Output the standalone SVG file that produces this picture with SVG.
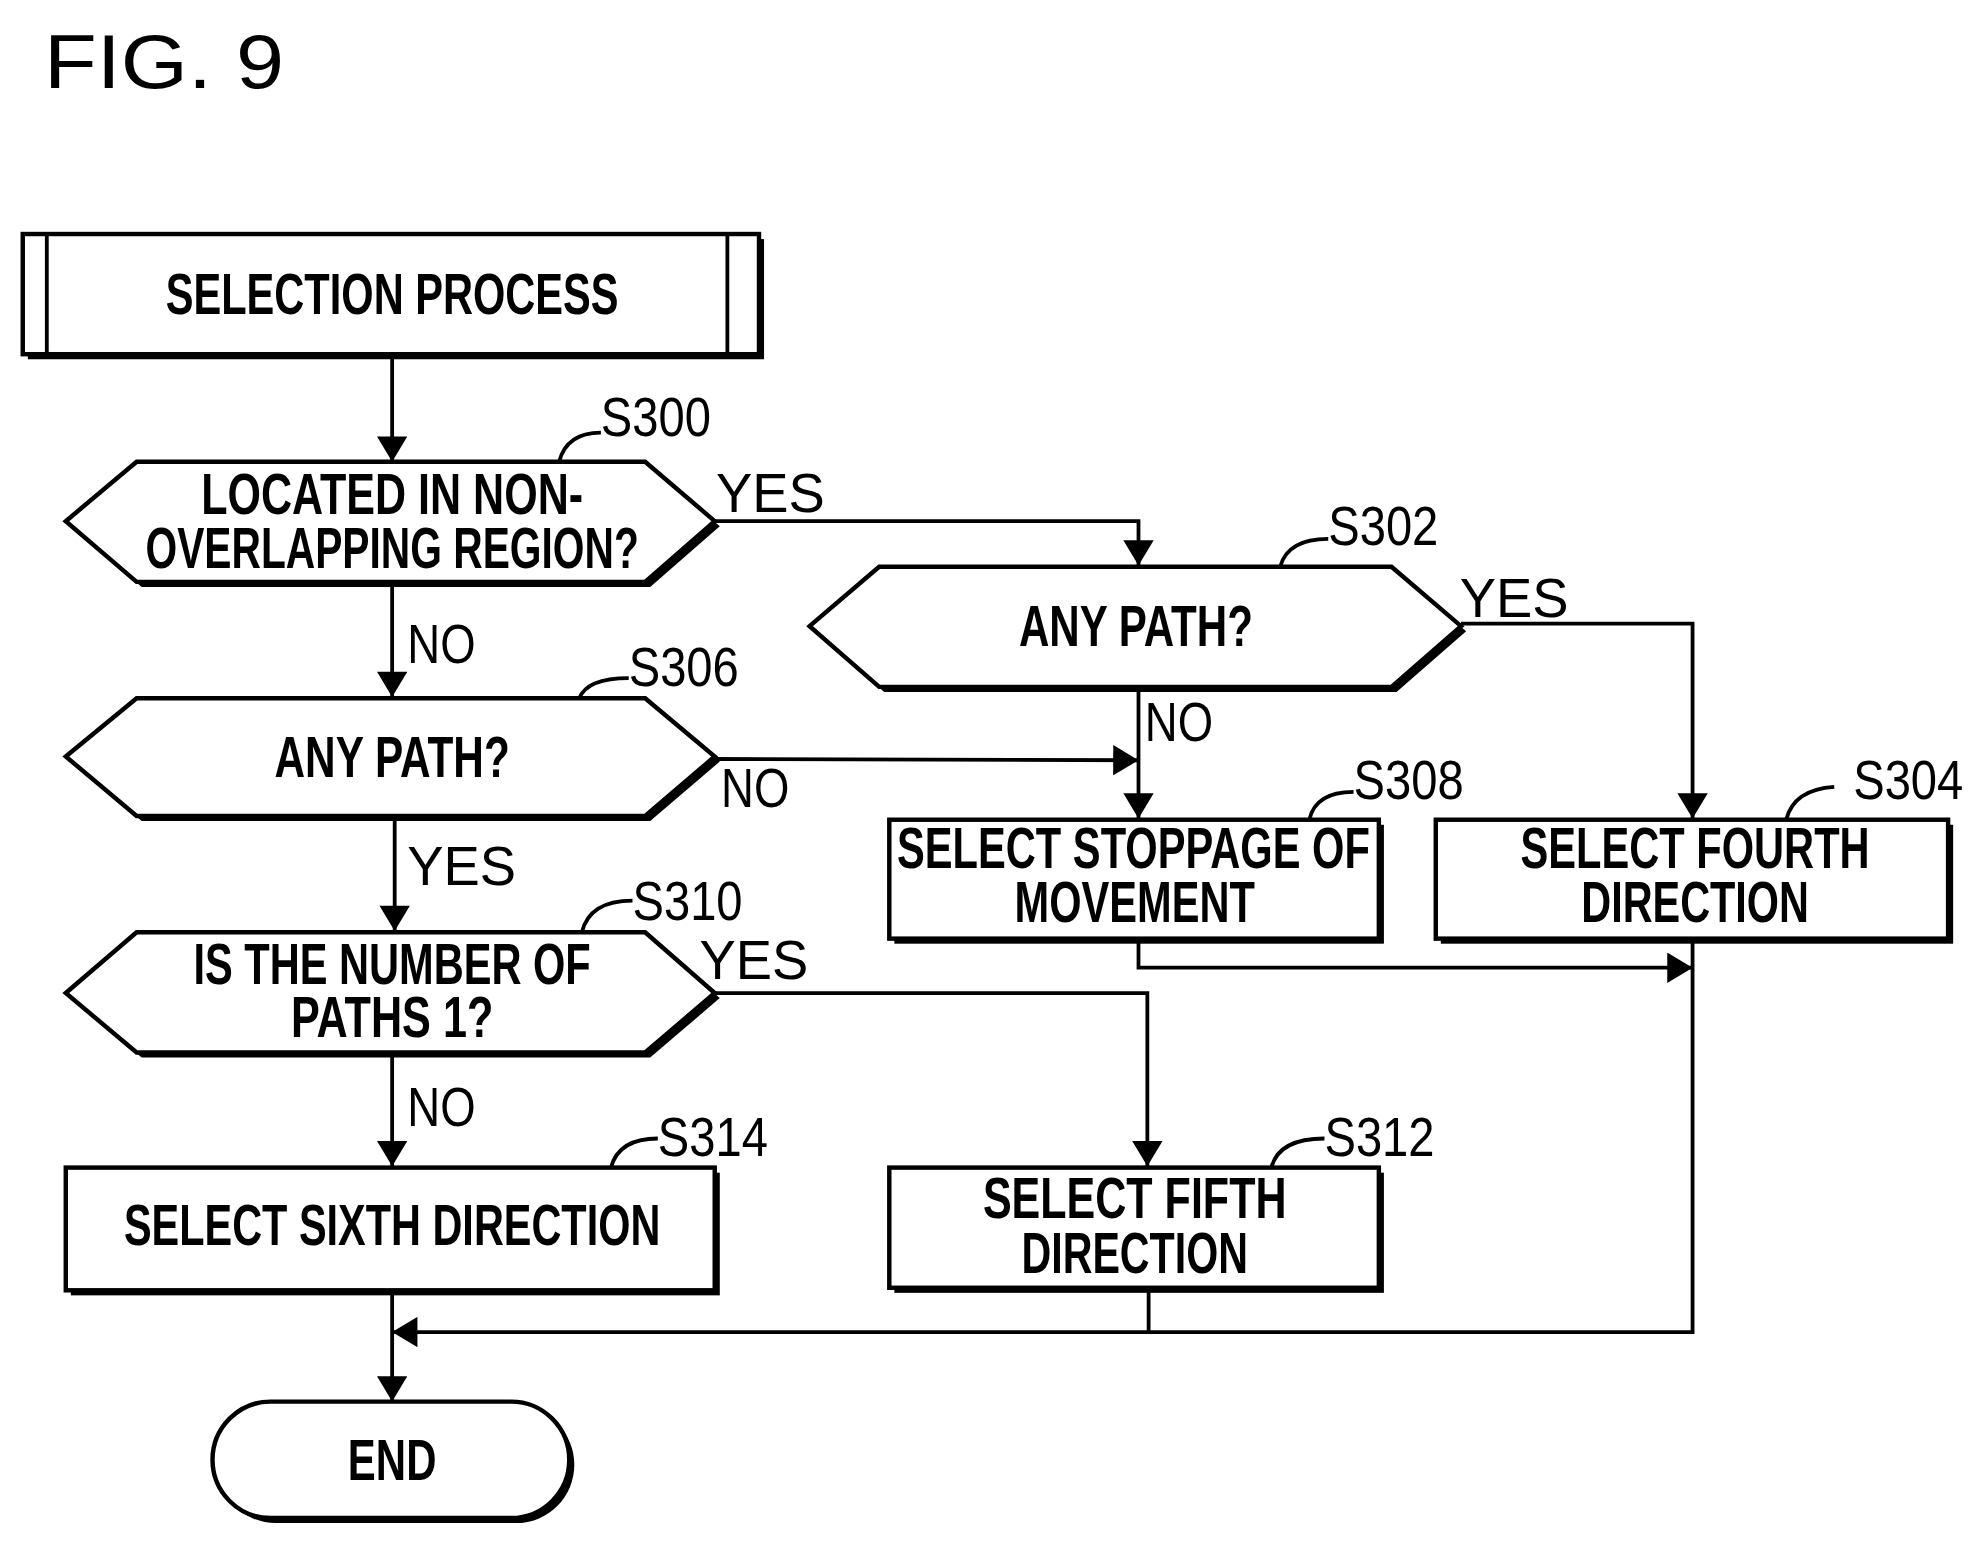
<svg xmlns="http://www.w3.org/2000/svg" width="1984" height="1550" viewBox="0 0 1984 1550">
<style>
.s{fill:#000}
.n{fill:#fff;stroke:#000;stroke-width:3.5}
.t{font-family:"Liberation Sans",Arial,sans-serif;font-size:46px;font-weight:bold;fill:#000}
.l{font-family:"Liberation Sans",Arial,sans-serif;font-size:44px;fill:#000}
.c{fill:none;stroke:#000;stroke-width:3}
</style>
<defs>
<marker id="ah" viewBox="0 0 20 24" refX="20" refY="12" markerWidth="22" markerHeight="24" markerUnits="userSpaceOnUse" orient="auto"><path d="M0,0 L20,12 L0,24 z"/></marker>
</defs>
<rect width="1984" height="1550" fill="#fff"/>
<text x="44" y="88" font-family="Liberation Sans,Arial,sans-serif" font-size="76" textLength="240" lengthAdjust="spacingAndGlyphs">FIG. 9</text>
<g transform="scale(1.265)">
<g id="connectors">
<path class="c" d="M310,280 V365" marker-end="url(#ah)"/>
<path class="c" d="M565,412 H900 V447" marker-end="url(#ah)"/>
<path class="c" d="M1155,493 H1338 V647" marker-end="url(#ah)"/>
<path class="c" d="M900,543 V647" marker-end="url(#ah)"/>
<path class="c" d="M310,460 V551" marker-end="url(#ah)"/>
<path class="c" d="M565,600 L900,601" marker-end="url(#ah)"/>
<path class="c" d="M312,645 V736" marker-end="url(#ah)"/>
<path class="c" d="M565,785 H907 V922" marker-end="url(#ah)"/>
<path class="c" d="M310,832 V922" marker-end="url(#ah)"/>
<path class="c" d="M900,742 V765 H1338" marker-end="url(#ah)"/>
<path class="c" d="M1338,742 V1053 H310" marker-end="url(#ah)"/>
<path class="c" d="M908,1020 V1053"/>
<path class="c" d="M310,1020 V1108" marker-end="url(#ah)"/>
<text class="l" x="566" y="405" textLength="86" lengthAdjust="spacingAndGlyphs">YES</text>
<text class="l" x="1154" y="488" textLength="86" lengthAdjust="spacingAndGlyphs">YES</text>
<text class="l" x="905" y="586" textLength="54" lengthAdjust="spacingAndGlyphs">NO</text>
<text class="l" x="322" y="524" textLength="54" lengthAdjust="spacingAndGlyphs">NO</text>
<text class="l" x="570" y="638" textLength="54" lengthAdjust="spacingAndGlyphs">NO</text>
<text class="l" x="322" y="700" textLength="86" lengthAdjust="spacingAndGlyphs">YES</text>
<text class="l" x="553" y="774" textLength="86" lengthAdjust="spacingAndGlyphs">YES</text>
<text class="l" x="322" y="890" textLength="54" lengthAdjust="spacingAndGlyphs">NO</text>
</g>
<g id="start">
<rect class="s" x="22" y="189" width="582" height="95"/>
<rect class="n" x="18" y="185" width="582" height="95"/>
<path class="c" d="M37,185 V280 M575,185 V280"/>
<text class="t" x="310" y="248" text-anchor="middle" textLength="358" lengthAdjust="spacingAndGlyphs">SELECTION PROCESS</text>
</g>
<g id="S300">
<path class="s" d="M56,416 L112,369 L514,369 L569,416 L514,464 L112,464 z"/>
<path class="n" d="M52,412 L108,365 L510,365 L565,412 L510,460 L108,460 z"/>
<text class="t" x="310" y="406" text-anchor="middle" textLength="302" lengthAdjust="spacingAndGlyphs">LOCATED IN NON-</text>
<text class="t" x="310" y="449" text-anchor="middle" textLength="390" lengthAdjust="spacingAndGlyphs">OVERLAPPING REGION?</text>
<path class="c" d="M442,365 Q448,342 475,342" stroke-width="2"/>
<text class="l" x="475" y="345" textLength="87" lengthAdjust="spacingAndGlyphs">S300</text>
</g>
<g id="S302">
<path class="s" d="M644,499 L699,452 L1104,452 L1159,499 L1104,547 L699,547 z"/>
<path class="n" d="M640,495 L695,448 L1100,448 L1155,495 L1100,543 L695,543 z"/>
<text class="t" x="898" y="511" text-anchor="middle" textLength="185" lengthAdjust="spacingAndGlyphs">ANY PATH?</text>
<path class="c" d="M1012,448 Q1018,426 1050,426" stroke-width="2"/>
<text class="l" x="1050" y="431" textLength="87" lengthAdjust="spacingAndGlyphs">S302</text>
</g>
<g id="S306">
<path class="s" d="M56,602 L112,556 L514,556 L569,602 L514,649 L112,649 z"/>
<path class="n" d="M52,598 L108,552 L510,552 L565,598 L510,645 L108,645 z"/>
<text class="t" x="310" y="614" text-anchor="middle" textLength="186" lengthAdjust="spacingAndGlyphs">ANY PATH?</text>
<path class="c" d="M458,552 Q464,536 497,536" stroke-width="2"/>
<text class="l" x="497" y="542" textLength="87" lengthAdjust="spacingAndGlyphs">S306</text>
</g>
<g id="S308">
<rect class="s" x="707" y="652" width="387" height="94"/>
<rect class="n" x="703" y="648" width="387" height="94"/>
<text class="t" x="896" y="686" text-anchor="middle" textLength="374" lengthAdjust="spacingAndGlyphs">SELECT STOPPAGE OF</text>
<text class="t" x="897" y="729" text-anchor="middle" textLength="190" lengthAdjust="spacingAndGlyphs">MOVEMENT</text>
<path class="c" d="M1035,648 Q1040,626 1070,626" stroke-width="2"/>
<text class="l" x="1070" y="632" textLength="87" lengthAdjust="spacingAndGlyphs">S308</text>
</g>
<g id="S304">
<rect class="s" x="1139" y="652" width="405" height="94"/>
<rect class="n" x="1135" y="648" width="405" height="94"/>
<text class="t" x="1340" y="686" text-anchor="middle" textLength="276" lengthAdjust="spacingAndGlyphs">SELECT FOURTH</text>
<text class="t" x="1340" y="729" text-anchor="middle" textLength="180" lengthAdjust="spacingAndGlyphs">DIRECTION</text>
<path class="c" d="M1412,648 Q1418,624 1450,622" stroke-width="2"/>
<text class="l" x="1465" y="632" textLength="87" lengthAdjust="spacingAndGlyphs">S304</text>
</g>
<g id="S310">
<path class="s" d="M56,789 L112,741 L514,741 L569,789 L514,836 L112,836 z"/>
<path class="n" d="M52,785 L108,737 L510,737 L565,785 L510,832 L108,832 z"/>
<text class="t" x="310" y="778" text-anchor="middle" textLength="314" lengthAdjust="spacingAndGlyphs">IS THE NUMBER OF</text>
<text class="t" x="310" y="820" text-anchor="middle" textLength="160" lengthAdjust="spacingAndGlyphs">PATHS 1?</text>
<path class="c" d="M460,737 Q466,712 500,712" stroke-width="2"/>
<text class="l" x="500" y="727" textLength="87" lengthAdjust="spacingAndGlyphs">S310</text>
</g>
<g id="S314">
<rect class="s" x="56" y="927" width="513" height="97"/>
<rect class="n" x="52" y="923" width="513" height="97"/>
<text class="t" x="310" y="984" text-anchor="middle" textLength="424" lengthAdjust="spacingAndGlyphs">SELECT SIXTH DIRECTION</text>
<path class="c" d="M483,923 Q489,900 520,900" stroke-width="2"/>
<text class="l" x="520" y="914" textLength="87" lengthAdjust="spacingAndGlyphs">S314</text>
</g>
<g id="S312">
<rect class="s" x="707" y="927" width="387" height="95"/>
<rect class="n" x="703" y="923" width="387" height="95"/>
<text class="t" x="897" y="963" text-anchor="middle" textLength="240" lengthAdjust="spacingAndGlyphs">SELECT  FIFTH</text>
<text class="t" x="897" y="1006" text-anchor="middle" textLength="179" lengthAdjust="spacingAndGlyphs">DIRECTION</text>
<path class="c" d="M1005,923 Q1011,900 1047,900" stroke-width="2"/>
<text class="l" x="1047" y="914" textLength="87" lengthAdjust="spacingAndGlyphs">S312</text>
</g>
<g id="end">
<rect class="s" x="172" y="1112" width="282" height="92" rx="46"/>
<rect class="n" x="168" y="1108" width="282" height="92" rx="46"/>
<text class="t" x="310" y="1170" text-anchor="middle" textLength="70" lengthAdjust="spacingAndGlyphs">END</text>
</g>
</g>
</svg>
